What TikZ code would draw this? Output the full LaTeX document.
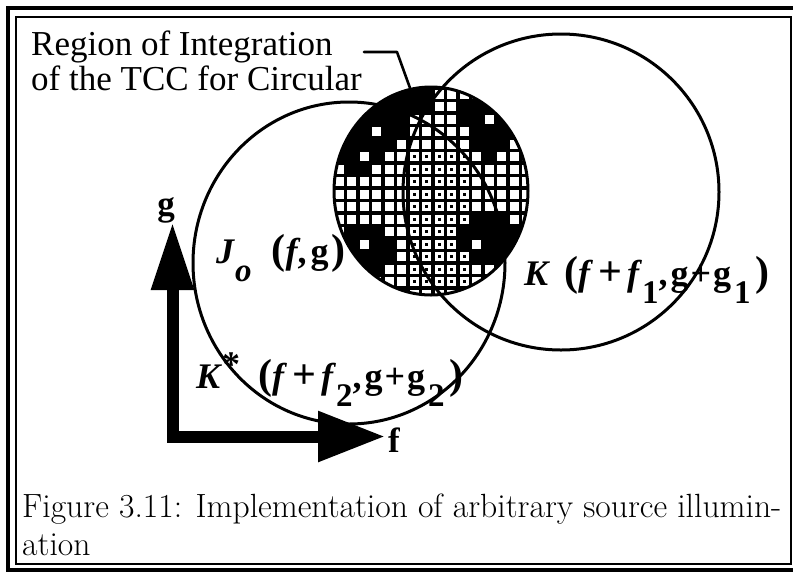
\documentclass[tikz,border=0pt]{standalone}
\usepackage{fontspec}
\newfontfamily\tms{Liberation Serif}
\usetikzlibrary{arrows.meta}
\newcommand{\bigp}[1]{{\fontsize{42}{42}\selectfont #1}}
\newcommand{\bigplus}{{\fontsize{42}{42}\selectfont +}}
\newcommand{\lowsub}[1]{\raisebox{-18pt}{\fontsize{33}{33}\selectfont #1}}
\newcommand{\gpg}{,\hspace{3pt}g\hspace{2pt}+\hspace{2pt}g}
\begin{document}
\begin{tikzpicture}[x=1pt,y=-1pt,
  frameo/.style={line width=3.5pt},
  framei/.style={line width=2.5pt},
  ring/.style={line width=3pt},
  hatch/.style={line width=3.4pt},
  lead/.style={line width=2.6pt, line join=round, line cap=round},
  axis/.style={line width=12pt, line join=miter,
    {Triangle[length=68pt,width=40pt]}-{Triangle[length=67pt,width=48pt]}},
  txt/.style={font=\tms\fontsize{35}{36}\selectfont, inner sep=0pt, anchor=base west},
  lbl/.style={font=\tms\fontsize{36}{36}\selectfont\bfseries, inner sep=0pt, anchor=base west},
  axl/.style={font=\tms\fontsize{35}{35}\selectfont\bfseries, inner sep=0pt},
  captxt/.style={font=\fontsize{33.6}{38}\selectfont, inner sep=0pt, anchor=base west}]

\useasboundingbox (0,0) rectangle (793,574);

% frame
\begin{scope}
  \clip (0,0) rectangle (793,574);
  \draw[frameo] (8,8) rectangle (799,570);
\end{scope}
\draw[framei] (16,17) rectangle (791,564);

% hatched region
\begin{scope}
  \clip (431,191) ellipse [x radius=97, y radius=104];
  \foreach \k in {0,...,16} \draw[hatch] ({333+\k*12.5},80) -- ({333+\k*12.5},300);
  \foreach \k in {0,...,17} \draw[hatch] (330,{88+\k*12.5}) -- (532,{88+\k*12.5});
  % dark cells
  \foreach \i/\j in {4/0,5/0,6/0,7/0,
      2/1,3/1,4/1,5/1,6/1,7/1,
      1/2,2/2,3/2,4/2,5/2,
      0/3,1/3,2/3,4/3,5/3,
      0/4,1/4,2/4,3/4,4/4,
      0/5,1/5,3/5,
      1/6,2/6,
      10/1,11/1,12/1,
      10/2,11/2,13/2,14/2,
      11/3,12/3,13/3,14/3,
      11/4,12/4,13/4,
      12/5,
      1/11,2/11,3/11,
      0/12,1/12,3/12,4/12,
      0/13,1/13,2/13,3/13,4/13,
      1/14,2/14,3/14,
      2/15,
      11/10,12/10,13/10,
      10/11,11/11,12/11,13/11,14/11,
      10/12,12/12,13/12,14/12,
      11/13,12/13,13/13}
    \fill ({333+\i*12.5-1.5},{88+\j*12.5-1.5}) rectangle ++(15.5,15.5);
  % light dotted middle
  \foreach \i in {6,...,10} \foreach \j in {5,...,15}
    \fill ({333+\i*12.5+4.8},{88+\j*12.5+4.8}) rectangle ++(3,3);
\end{scope}

% circles
\draw[ring] (349,263) ellipse [x radius=156, y radius=161];
\draw[ring] (561,192) circle [radius=158];
\draw[ring] (431,191) ellipse [x radius=97, y radius=104];

% texts
\node[txt] (reg1) at (31,55) {Region of Integration};
\node[txt] (reg2) at (31,90) {of the TCC for Circular};
\coordinate (leadA) at (364,52);
\coordinate (leadB) at (397,52);
\coordinate (leadC) at (410,88);
\draw[lead] (leadA) -- (leadB) -- (leadC);

% axes
\coordinate (O) at (172.5,436.5);
\coordinate (gtip) at (172.5,222);
\coordinate (ftip) at (385,436.5);
\draw[axis] (gtip) -- (O) -- (ftip);
\node[axl] (glab) at (166,210) {g};
\node[axl] (flab) at (394,440) {f};

% labels
\node[lbl] (jlab) at (216,263) {\textit{J}\lowsub{\textit{o}}\hspace{20pt}\bigp{(}\textit{f},\hspace{4pt}g\hspace{3pt}\bigp{)}};
\node[lbl] (k1lab) at (524,285) {\textit{K}\hspace{14pt}\bigp{(}\textit{f}\hspace{5pt}\bigplus\hspace{5pt}\textit{f}\lowsub{1}\gpg\lowsub{\hspace{3pt}1}\hspace{5pt}\bigp{)}};
\node[lbl] (k2lab) at (196,388) {\textit{K}\raisebox{12pt}{*}\hspace{18pt}\bigp{(}\textit{f}\hspace{5pt}\bigplus\hspace{5pt}\textit{f}\lowsub{2}\gpg\lowsub{\hspace{3pt}2}\hspace{5pt}\bigp{)}};

% caption
\node[captxt] (cap1) at (22,517) {Figure 3.11: Implementation of arbitrary source illumin-};
\node[captxt] (cap2) at (22,555) {ation};
\end{tikzpicture}
\end{document}
